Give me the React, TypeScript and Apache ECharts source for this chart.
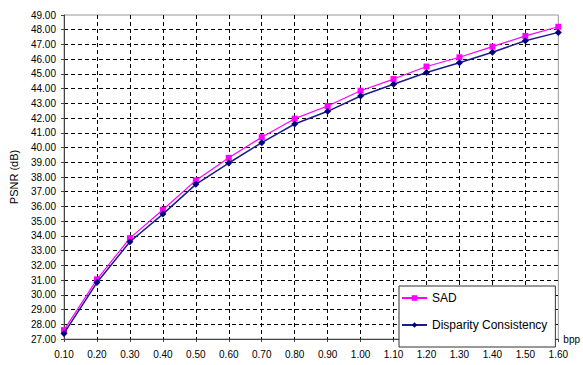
import React, { useEffect, useRef } from "react";
import * as echarts from "echarts";

const bpp = ["0.10","0.20","0.30","0.40","0.50","0.60","0.70","0.80","0.90","1.00","1.10","1.20","1.30","1.40","1.50","1.60"];
const sad = [27.6, 31.05, 33.85, 35.78, 37.77, 39.3, 40.7, 41.96, 42.82, 43.86, 44.65, 45.5, 46.13, 46.85, 47.58, 48.2];
const disparity = [27.38, 30.83, 33.6, 35.48, 37.5, 38.95, 40.33, 41.6, 42.46, 43.5, 44.3, 45.1, 45.76, 46.47, 47.25, 47.82];

const yMin = 27;
const yMax = 49;
const yStep = 1;

export default function App() {
  const ref = useRef<HTMLDivElement>(null);
  useEffect(() => {
    if (!ref.current) return;
    const chart = echarts.init(ref.current, null, { renderer: "svg" });
    const font = "Arial, 'Liberation Sans', sans-serif";
    chart.setOption({
      animation: false,
      backgroundColor: "#fff",
      grid: {
        left: 60,
        top: 15,
        right: 23,
        bottom: 26,
        show: true,
        borderColor: "#999",
        borderWidth: 1,
        backgroundColor: "#fff",
      },
      legend: {
        orient: "vertical",
        left: 399,
        top: 286,
        padding: [6, 8, 16, 2],
        itemGap: 15,
        itemWidth: 25,
        itemHeight: 7,
        borderColor: "#333",
        borderWidth: 1,
        backgroundColor: "#fff",
        textStyle: { fontFamily: font, fontSize: 12, color: "#000" },
        data: ["SAD", "Disparity Consistency"],
      },
      xAxis: {
        type: "category",
        data: bpp,
        boundaryGap: false,
        name: "bpp",
        nameLocation: "end",
        nameGap: 5,
        nameTextStyle: { fontFamily: font, fontSize: 10, color: "#000" },
        axisLine: { lineStyle: { color: "#444", width: 1 } },
        axisTick: { show: true, length: 3, inside: false, lineStyle: { color: "#444" } },
        axisLabel: { fontFamily: font, fontSize: 10, color: "#000", margin: 10 },
        splitLine: {
          show: true,
          showMinLine: false,
          showMaxLine: false,
          lineStyle: { color: "#000", type: [4, 3], width: 1 },
        },
      },
      yAxis: {
        type: "value",
        min: yMin,
        max: yMax,
        interval: yStep,
        name: "PSNR (dB)",
        nameLocation: "middle",
        nameRotate: 90,
        nameGap: 45,
        nameTextStyle: { fontFamily: font, fontSize: 11, color: "#000" },
        axisLine: { show: true, lineStyle: { color: "#444", width: 1 } },
        axisTick: { show: true, length: 3, lineStyle: { color: "#444" } },
        axisLabel: {
          fontFamily: font,
          fontSize: 10,
          color: "#000",
          margin: 8,
          formatter: (v: number) => v.toFixed(2),
        },
        splitLine: {
          show: true,
          showMinLine: false,
          showMaxLine: false,
          lineStyle: { color: "#000", type: [4, 3], width: 1 },
        },
      },
      series: [
        {
          name: "SAD",
          type: "line",
          data: sad,
          symbol: "rect",
          symbolSize: 6,
          itemStyle: { color: "#FF00FF" },
          lineStyle: { color: "#FF00FF", width: 1.2 },
          z: 3,
        },
        {
          name: "Disparity Consistency",
          type: "line",
          data: disparity,
          symbol: "diamond",
          symbolSize: 7,
          itemStyle: { color: "#000080" },
          lineStyle: { color: "#1c1c8c", width: 1.5 },
          z: 4,
        },
      ],
    });
    return () => chart.dispose();
  }, []);
  return (
    <div
      ref={ref}
      style={{ position: "absolute", left: 0, top: 0, width: 583, height: 365 }}
    />
  );
}
